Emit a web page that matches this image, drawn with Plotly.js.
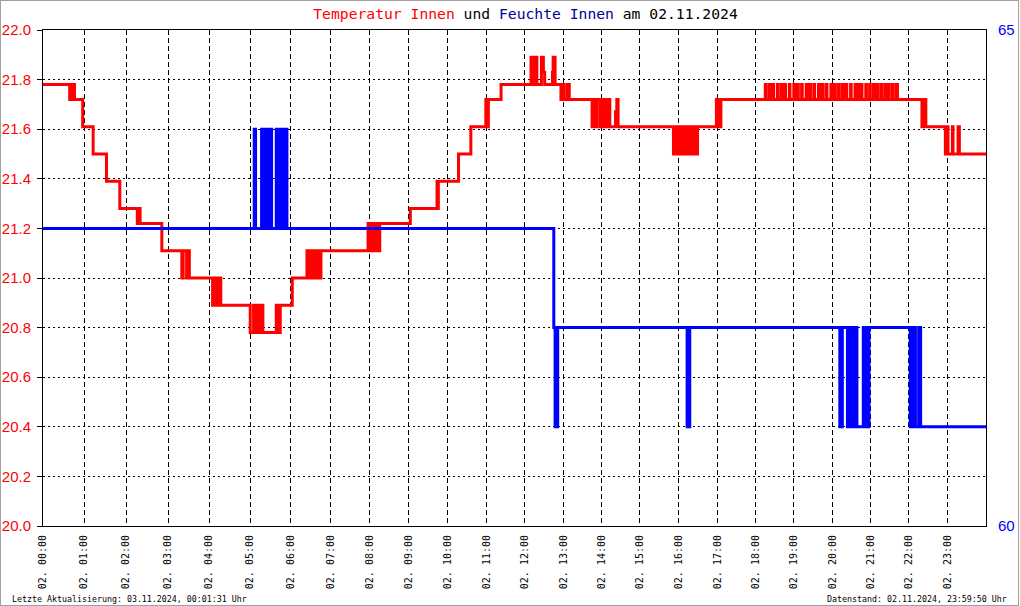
<!DOCTYPE html>
<html><head><meta charset="utf-8">
<script src="https://cdn.plot.ly/plotly-3.0.1.min.js"></script>
<style>
html,body{margin:0;padding:0;background:#fff;}
#wrap{position:relative;width:1020px;height:606px;overflow:hidden;}
#chart{width:1020px;height:606px;}
#frame{position:absolute;left:0;top:0;width:1019px;height:606px;box-sizing:border-box;border:1px solid #a0a0a0;pointer-events:none;}
</style>
</head><body>
<div id="wrap"><div id="chart"></div><div id="frame"></div></div>
<script>
// Measurements per hour (the chart's x axis is the measurement index)
const samplesPerHour = [41,42,42,41,41,40,40,39,39,39,39,38,39,38,38,39,39,38,38,39,38,38,39,38];
const tickLabels = ["02. 00:00","02. 01:00","02. 02:00","02. 03:00","02. 04:00","02. 05:00","02. 06:00","02. 07:00",
  "02. 08:00","02. 09:00","02. 10:00","02. 11:00","02. 12:00","02. 13:00","02. 14:00","02. 15:00",
  "02. 16:00","02. 17:00","02. 18:00","02. 19:00","02. 20:00","02. 21:00","02. 22:00","02. 23:00"];
const tempTicks = [20.0,20.2,20.4,20.6,20.8,21.0,21.2,21.4,21.6,21.8,22.0];
const humTicks = [60,65];

// Temperatur Innen (°C): [time, value] at each change
const tempSteps = [
 ["00:00",21.78],
 ["00:39",21.72],["00:41",21.78],["00:42",21.72],["00:44",21.78],["00:46",21.72],
 ["00:58",21.61],
 ["01:13",21.50],
 ["01:32",21.39],
 ["01:51",21.28],
 ["02:16",21.22],["02:18",21.28],["02:20",21.22],
 ["02:51",21.11],
 ["03:20",21.00],["03:22",21.11],["03:27",21.00],["03:28",21.11],["03:29",21.00],["03:30",21.11],["03:31",21.00],
 ["04:05",20.89],["04:07",21.00],["04:08",20.89],["04:10",21.00],["04:11",20.89],["04:13",21.00],["04:14",20.89],["04:16",21.00],["04:17",20.89],
 ["05:00",20.78],["05:05",20.89],["05:06",20.78],["05:09",20.89],["05:10",20.78],["05:13",20.89],["05:15",20.78],["05:18",20.89],["05:19",20.78],
 ["05:39",20.89],["05:40",20.78],["05:42",20.89],["05:43",20.78],["05:45",20.89],
 ["06:03",21.00],
 ["06:25",21.11],["06:26",21.00],["06:28",21.11],["06:29",21.00],["06:31",21.11],["06:33",21.00],["06:34",21.11],["06:36",21.00],
 ["06:37",21.11],["06:39",21.00],["06:40",21.11],["06:42",21.00],["06:43",21.11],["06:45",21.00],["06:46",21.11],
 ["07:58",21.22],["08:00",21.11],["08:03",21.22],["08:05",21.11],["08:08",21.22],["08:10",21.11],["08:13",21.22],["08:14",21.11],["08:16",21.22],
 ["09:03",21.28],
 ["09:44",21.39],["09:45",21.28],["09:46",21.39],
 ["10:17",21.50],
 ["10:36",21.61],
 ["10:59",21.72],["11:01",21.61],["11:03",21.72],
 ["11:23",21.78],
 ["12:10",21.89],["12:12",21.78],["12:13",21.89],["12:15",21.78],["12:16",21.89],["12:19",21.78],
 ["12:26",21.89],["12:29",21.83],["12:31",21.78],["12:43",21.83],["12:44",21.89],["12:47",21.78],
 ["12:56",21.72],["12:58",21.78],["13:00",21.72],["13:05",21.78],["13:06",21.72],["13:07",21.78],["13:09",21.72],
 ["13:45",21.61],["13:47",21.72],["13:48",21.61],["13:50",21.72],["13:51",21.61],["13:53",21.72],
 ["13:58",21.61],["13:59",21.72],["14:01",21.61],["14:03",21.72],
 ["14:05",21.61],["14:06",21.72],["14:08",21.61],["14:09",21.72],["14:11",21.61],["14:12",21.72],["14:13",21.61],
 ["14:22",21.67],["14:23",21.61],["14:24",21.72],["14:26",21.61],
 ["15:52",21.50],["15:53",21.61],["15:54",21.50],["15:56",21.61],["15:57",21.50],["15:59",21.61],["16:00",21.50],["16:02",21.61],
 ["16:03",21.50],["16:05",21.61],["16:06",21.50],["16:08",21.61],["16:09",21.50],["16:11",21.61],["16:12",21.50],["16:14",21.61],
 ["16:15",21.50],["16:17",21.61],["16:18",21.50],["16:20",21.61],["16:21",21.50],["16:23",21.61],["16:24",21.50],["16:26",21.61],
 ["16:27",21.50],["16:29",21.61],
 ["16:58",21.72],["17:00",21.61],["17:02",21.72],["17:03",21.61],["17:05",21.72],
 ["18:15",21.78],["18:16",21.72],["18:21",21.78],["18:23",21.72],["18:27",21.78],["18:28",21.72],["18:34",21.78],["18:35",21.72],
 ["18:40",21.78],["18:42",21.72],["18:46",21.78],["18:47",21.72],["18:53",21.78],["18:54",21.72],["19:00",21.78],["19:02",21.72],
 ["19:06",21.78],["19:07",21.72],["19:12",21.78],["19:13",21.72],["19:19",21.78],["19:21",21.72],["19:25",21.78],["19:26",21.72],
 ["19:31",21.78],["19:32",21.72],["19:38",21.78],["19:40",21.72],["19:44",21.78],["19:45",21.72],["19:50",21.78],["19:51",21.72],
 ["19:57",21.78],["19:59",21.72],["20:03",21.78],["20:04",21.72],["20:09",21.78],["20:10",21.72],["20:15",21.78],["20:17",21.72],
 ["20:21",21.78],["20:22",21.72],
 ["20:28",21.78],["20:29",21.72],["20:35",21.78],["20:36",21.72],["20:40",21.78],["20:41",21.72],["20:45",21.78],["20:46",21.72],
 ["20:52",21.78],["20:53",21.72],
 ["20:58",21.78],["20:59",21.72],["21:04",21.78],["21:06",21.72],["21:10",21.78],["21:11",21.72],["21:16",21.78],["21:17",21.72],
 ["21:22",21.78],["21:24",21.72],["21:28",21.78],["21:29",21.72],["21:34",21.78],["21:35",21.72],["21:40",21.78],["21:42",21.72],
 ["22:20",21.61],["22:24",21.72],["22:26",21.61],
 ["22:56",21.50],["22:58",21.61],["23:00",21.50],["23:07",21.61],["23:08",21.50],["23:16",21.61],["23:18",21.50],
 ["24:00",21.50]
];

// Feuchte Innen (%): [time, value] at each change
const humSteps = [
 ["00:00",63],
 ["05:06",64],["05:08",63],
 ["05:17",64],["05:18",63],["05:19",64],["05:21",63],["05:22",64],["05:24",63],["05:25",64],["05:27",63],["05:28",64],["05:30",63],
 ["05:31",64],["05:32",63],
 ["05:39",64],["05:40",63],["05:41",64],["05:43",63],["05:44",64],["05:46",63],["05:47",64],["05:49",63],["05:50",64],["05:52",63],
 ["05:53",64],["05:55",63],
 ["12:45",62],["12:47",61],["12:51",62],
 ["16:13",61],["16:17",62],
 ["20:11",61],["20:15",62],["20:23",61],["20:27",62],["20:29",61],["20:31",62],["20:32",61],["20:34",62],["20:35",61],["20:37",62],
 ["20:38",61],["20:48",62],["20:49",61],["20:51",62],["20:52",61],["20:54",62],["20:55",61],["20:57",62],
 ["22:02",61],["22:04",62],["22:06",61],["22:08",62],["22:10",61],["22:15",62],["22:18",61],
 ["24:00",61]
];

const cum = [0];
samplesPerHour.forEach((n,i)=>cum.push(cum[i]+n));
const total = cum[cum.length-1];
function toIndex(t){
  const p = t.split(':').map(Number);
  if (p[0] >= 24) return total;
  return cum[p[0]] + p[1]/60*samplesPerHour[p[0]];
}

const mono = 'DejaVu Sans Mono, Liberation Mono, monospace';
const sans = 'Liberation Sans, Arial, sans-serif';

const traces = [
 {x: tempSteps.map(d=>toIndex(d[0])), y: tempSteps.map(d=>d[1]), type:'scatter', mode:'lines',
  line:{color:'#ff0000', width:3, shape:'hv'}, yaxis:'y', name:'Temperatur Innen', hoverinfo:'skip'},
 {x: humSteps.map(d=>toIndex(d[0])), y: humSteps.map(d=>d[1]), type:'scatter', mode:'lines',
  line:{color:'#0000ff', width:3, shape:'hv'}, yaxis:'y2', name:'Feuchte Innen', hoverinfo:'skip'}
];

const layout = {
  width:1020, height:606,
  margin:{l:43, r:34, t:30, b:80, pad:0},
  paper_bgcolor:'#ffffff', plot_bgcolor:'#ffffff',
  showlegend:false,
  title:{
    text:'<span style="color:#ff0000">Temperatur Innen</span> und <span style="color:#000099">Feuchte Innen</span> am 02.11.2024',
    font:{family:mono, size:14.7, color:'#000000'},
    x:525.5/1020, xref:'container', xanchor:'center',
    y:1-14/606, yref:'container', yanchor:'middle'
  },
  xaxis:{
    range:[0,total], tickmode:'array', tickvals:cum.slice(0,24), ticktext:tickLabels,
    tickangle:-90, tickfont:{family:mono, size:10, color:'#000000'},
    ticks:'', ticklabelstandoff:4,
    showgrid:true, gridcolor:'#000000', gridwidth:1, griddash:'5px,3px',
    showline:true, linecolor:'#000000', linewidth:1, mirror:true,
    zeroline:false, fixedrange:true
  },
  yaxis:{
    range:[20,22], tickmode:'array', tickvals:tempTicks, ticktext:tempTicks.map(v=>v.toFixed(1)),
    tickfont:{family:sans, size:15, color:'#ff0000'},
    ticks:'outside', ticklen:5, tickcolor:'#000000', tickwidth:1, ticklabelstandoff:3,
    showgrid:true, gridcolor:'#000000', gridwidth:1, griddash:'2px,3px',
    showline:true, linecolor:'#000000', linewidth:1,
    zeroline:false, fixedrange:true
  },
  yaxis2:{
    range:[60,65], overlaying:'y', side:'right', tickmode:'array', tickvals:humTicks, ticktext:humTicks.map(String),
    tickfont:{family:sans, size:15, color:'#0000ff'},
    ticks:'', ticklabelstandoff:8,
    showgrid:false, showline:true, linecolor:'#000000', linewidth:1,
    zeroline:false, fixedrange:true
  },
  annotations:[
    {text:'Letzte Aktualisierung: 03.11.2024, 00:01:31 Uhr', xref:'paper', yref:'paper',
     x:(10-43)/943, y:-(598.5-526)/496, xanchor:'left', yanchor:'middle', showarrow:false,
     font:{family:mono, size:8.3, color:'#000000'}},
    {text:'Datenstand: 02.11.2024, 23:59:50 Uhr', xref:'paper', yref:'paper',
     x:(1009-43)/943, y:-(598.5-526)/496, xanchor:'right', yanchor:'middle', showarrow:false,
     font:{family:mono, size:8.3, color:'#000000'}}
  ]
};

Plotly.newPlot('chart', traces, layout, {displayModeBar:false, staticPlot:true});
</script>
</body></html>
